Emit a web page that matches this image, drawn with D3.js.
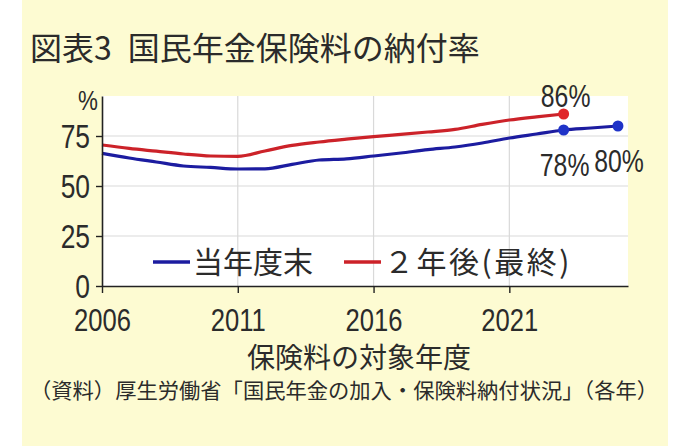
<!DOCTYPE html>
<html>
<head>
<meta charset="utf-8">
<script src="https://cdn.jsdelivr.net/npm/d3@7"></script>
<style>
  html, body { margin: 0; padding: 0; background: #fff; }
  svg { display: block; }
</style>
</head>
<body>
<div id="chart"></div>
<script>
// 保険料の対象年度
var years = [2006, 2007, 2008, 2009, 2010, 2011, 2012, 2013, 2014, 2015,
             2016, 2017, 2018, 2019, 2020, 2021, 2022, 2023, 2024, 2025];
// 当年度末 納付率 (%)
var currentRate = [66.3, 64, 62, 60, 59.3, 58.5, 58.6, 60.8, 63, 63.6,
                   65, 66.5, 68.2, 69.5, 71.5, 74, 76, 78, 79, 80];
// ２年後(最終) 納付率 (%)
var finalRate = [70.5, 68.8, 67.4, 66, 65, 64.8, 67.5, 70.3, 72, 73.4,
                 74.7, 75.8, 77, 78.3, 80.8, 83, 84.6, 86];
var yTicks = [0, 25, 50, 75];
var xTicks = [2006, 2011, 2016, 2021];
var seriesNames = ["当年度末", "２年後(最終)"];

createChart();

function createChart() {
  var width = 680;
  var height = 446;
  var jp = "'Noto Sans CJK JP', 'Noto Sans', sans-serif";
  var num = "'Liberation Sans', Arial, sans-serif";
  var squeeze = 0.8; // condensed look for the numbers
  var ink = "#2b2b2b";
  var blue = "#1c1ca0";
  var red = "#cc2229";

  var svg = d3.select("#chart").append("svg")
    .attr("width", width)
    .attr("height", height);

  // backgrounds
  svg.append("rect")
    .attr("width", width).attr("height", height)
    .attr("fill", "#ffffff");
  svg.append("rect")
    .attr("x", 22).attr("y", 0)
    .attr("width", 646).attr("height", height)
    .attr("fill", "#fdfbd2");

  var x = d3.scaleLinear().domain([2006, 2025.37]).range([102, 628]);
  var y = d3.scaleLinear().domain([0, 95]).range([286, 96]);

  // plot area
  svg.append("rect")
    .attr("x", x(2006)).attr("y", y(95))
    .attr("width", x(2025.37) - x(2006))
    .attr("height", y(0) - y(95))
    .attr("fill", "#ffffff");

  // grid
  svg.append("g").selectAll("line")
    .data(yTicks.slice(1))
    .join("line")
    .attr("x1", x(2006)).attr("x2", x(2025.37))
    .attr("y1", d => y(d)).attr("y2", d => y(d))
    .attr("stroke", "#d9d9d9").attr("stroke-width", 1.2);
  svg.append("g").selectAll("line")
    .data(xTicks.slice(1))
    .join("line")
    .attr("x1", d => x(d)).attr("x2", d => x(d))
    .attr("y1", y(95)).attr("y2", y(0))
    .attr("stroke", "#d9d9d9").attr("stroke-width", 1.2);

  // title
  var title = svg.append("text")
    .attr("x", 30).attr("y", 60)
    .attr("font-family", jp)
    .attr("font-size", 32)
    .attr("fill", ink);
  title.append("tspan").text("図表3");
  title.append("tspan").attr("dx", 16).text("国民年金保険料の納付率");

  // lines
  var line = d3.line()
    .x(d => x(d[0]))
    .y(d => y(d[1]))
    .curve(d3.curveMonotoneX);

  var blueData = years.map((yr, i) => [yr, currentRate[i]]);
  var redData = finalRate.map((v, i) => [years[i], v]);

  svg.append("path")
    .attr("d", line(redData))
    .attr("fill", "none")
    .attr("stroke", red)
    .attr("stroke-width", 3.2);
  svg.append("path")
    .attr("d", line(blueData))
    .attr("fill", "none")
    .attr("stroke", blue)
    .attr("stroke-width", 3.2);

  // end dots
  var redLast = redData[redData.length - 1];
  var blueMid = blueData[redData.length - 1];
  var blueLast = blueData[blueData.length - 1];

  svg.append("circle")
    .attr("cx", x(redLast[0])).attr("cy", y(redLast[1]))
    .attr("r", 5.5).attr("fill", "#e0262a");
  svg.selectAll(".bdot")
    .data([blueMid, blueLast])
    .join("circle")
    .attr("class", "bdot")
    .attr("cx", d => x(d[0])).attr("cy", d => y(d[1]))
    .attr("r", 5.5).attr("fill", "#1f33c8");

  // value labels
  function valueLabel(px, py, v) {
    svg.append("text")
      .attr("transform", "translate(" + px + "," + py + ") scale(" + squeeze + ",1)")
      .attr("text-anchor", "middle")
      .attr("font-family", num)
      .attr("font-size", 31)
      .attr("fill", ink)
      .text(Math.round(v) + "%");
  }
  valueLabel(x(redLast[0]) + 2, y(redLast[1]) - 7, redLast[1]);
  valueLabel(x(blueMid[0]) + 1, y(blueMid[1]) + 46, blueMid[1]);
  valueLabel(x(blueLast[0]) + 1, y(blueLast[1]) + 46, blueLast[1]);

  // axes
  var yAxis = svg.append("g")
    .attr("transform", "translate(" + x(2006) + ",0)")
    .call(d3.axisLeft(y).tickValues(yTicks).tickSize(6).tickSizeOuter(0).tickPadding(5));
  var xAxis = svg.append("g")
    .attr("transform", "translate(0," + y(0) + ")")
    .call(d3.axisBottom(x).tickValues(xTicks).tickFormat(d3.format("d"))
      .tickSize(7).tickSizeOuter(0).tickPadding(15));

  [yAxis, xAxis].forEach(function (g) {
    g.select(".domain").attr("stroke", "#222").attr("stroke-width", 1.6);
    g.selectAll(".tick line").attr("stroke", "#222").attr("stroke-width", 1.4);
    g.selectAll(".tick text")
      .attr("font-family", num)
      .attr("font-size", 32)
      .attr("fill", ink);
  });
  xAxis.selectAll(".tick text")
    .attr("transform", "scale(" + squeeze + ",1)");
  yAxis.selectAll(".tick text")
    .attr("x", -12 / squeeze)
    .attr("dy", "0.36em")
    .attr("font-size", 33)
    .attr("transform", "scale(" + squeeze + ",1)");

  svg.append("text")
    .attr("transform", "translate(88,110) scale(" + squeeze + ",1)")
    .attr("text-anchor", "middle")
    .attr("font-family", num)
    .attr("font-size", 28)
    .attr("fill", ink)
    .text("%");

  // legend
  var legend = svg.append("g")
    .attr("font-family", jp)
    .attr("font-size", 30)
    .attr("fill", ink);
  var legendItems = [
    { name: seriesNames[0], color: blue, x0: 153, spacing: 0 },
    { name: seriesNames[1], color: red, x0: 344, spacing: 2.5 }
  ];
  legendItems.forEach(function (d) {
    legend.append("line")
      .attr("x1", d.x0).attr("x2", d.x0 + 37)
      .attr("y1", 262).attr("y2", 262)
      .attr("stroke", d.color).attr("stroke-width", 3.5);
    legend.append("text")
      .attr("x", d.x0 + 40).attr("y", 273)
      .attr("letter-spacing", d.spacing)
      .text(d.name);
  });

  // axis title and source
  svg.append("text")
    .attr("x", 359).attr("y", 368)
    .attr("text-anchor", "middle")
    .attr("font-family", jp)
    .attr("font-size", 28)
    .attr("fill", ink)
    .text("保険料の対象年度");

  svg.append("text")
    .attr("x", 30).attr("y", 398)
    .attr("font-family", jp)
    .attr("font-size", 21)
    .attr("textLength", 628)
    .attr("lengthAdjust", "spacingAndGlyphs")
    .attr("fill", ink)
    .text("（資料）厚生労働省「国民年金の加入・保険料納付状況」（各年）");
}
</script>
</body>
</html>
